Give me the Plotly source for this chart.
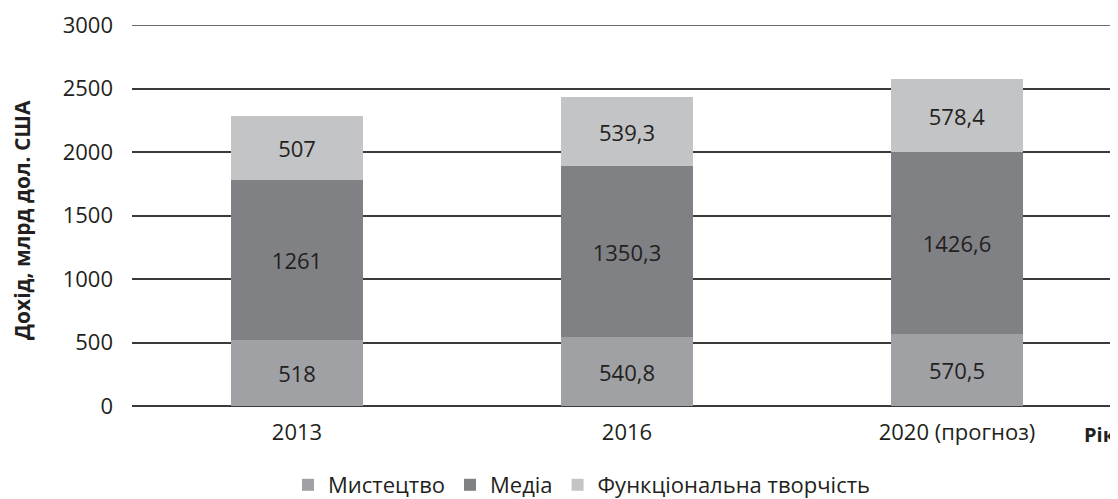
import plotly.graph_objects as go

categories = ["2013", "2016", "2020 (прогноз)"]
art = [518, 540.8, 570.5]
media = [1261, 1350.3, 1426.6]
functional = [507, 539.3, 578.4]
series_names = ["Мистецтво", "Медіа", "Функціональна творчість"]
colors = ["#a0a1a4", "#808184", "#c3c4c6"]
y_ticks = [0, 500, 1000, 1500, 2000, 2500, 3000]


def fmt(v):
    s = f"{v:g}"
    return s.replace(".", ",")


FONT = "Open Sans"
TXT = "#231f20"
OFF = 8  # page body margin
W, H = 1118 - OFF, 499 - OFF
L, T = 132 - OFF, 25 - OFF
B = H - (406 - OFF)
PW = W - L
PH = H - T - B

fig = go.Figure()
for name, vals, col in zip(series_names, [art, media, functional], colors):
    fig.add_trace(go.Bar(
        x=categories, y=vals, name=name,
        marker=dict(color=col, line=dict(width=0)),
        width=0.4,
        text=[fmt(v) for v in vals],
        textposition="inside", insidetextanchor="middle",
        textfont=dict(family=FONT, size=22, color=TXT),
        textangle=0,
    ))

fig.update_layout(
    barmode="stack",
    width=W, height=H,
    margin=dict(l=L, r=0, t=T, b=B, autoexpand=False),
    plot_bgcolor="white", paper_bgcolor="white",
    font=dict(family=FONT, size=22, color=TXT),
    showlegend=True,
    legend=dict(orientation="h", x=(582 - OFF) / W, xanchor="center",
                xref="container", yref="container",
                y=1 - (485 - OFF) / H, yanchor="middle",
                font=dict(family=FONT, size=22, color=TXT), itemwidth=30,
                traceorder="normal"),
    uniformtext=dict(mode=False),
)
fig.update_xaxes(
    type="category", range=[-0.5, -0.5 + PW / 330.0],
    showgrid=False, showline=False, ticks="",
    tickfont=dict(family=FONT, size=22, color=TXT),
    ticklabelstandoff=11,
)
fig.update_yaxes(
    range=[0, 3000], tickvals=y_ticks,
    showgrid=True, gridcolor="#3a3a3a", gridwidth=1.5,
    zeroline=True, zerolinecolor="#3a3a3a", zerolinewidth=1.5,
    showline=False, ticks="", ticklabelstandoff=18,
    tickfont=dict(family=FONT, size=22, color=TXT),
)
# top gridline at 3000 (range edge)
fig.add_hline(y=3000, line=dict(color="#3a3a3a", width=1.5), layer="below")

fig.add_annotation(
    text="<b>Дохід, млрд дол. США</b>", textangle=-90,
    xref="paper", yref="paper",
    x=((22 - OFF) - L) / PW, y=((406 - OFF) - (220 - OFF)) / PH,
    xanchor="center", yanchor="middle", showarrow=False,
    font=dict(family=FONT, size=21, color=TXT),
)
fig.add_annotation(
    text="<b>Рік</b>",
    xref="paper", yref="paper",
    x=1.0, y=-28 / PH,
    xanchor="right", yanchor="middle", showarrow=False,
    font=dict(family=FONT, size=20, color=TXT),
)

fig.write_html("out.html")
